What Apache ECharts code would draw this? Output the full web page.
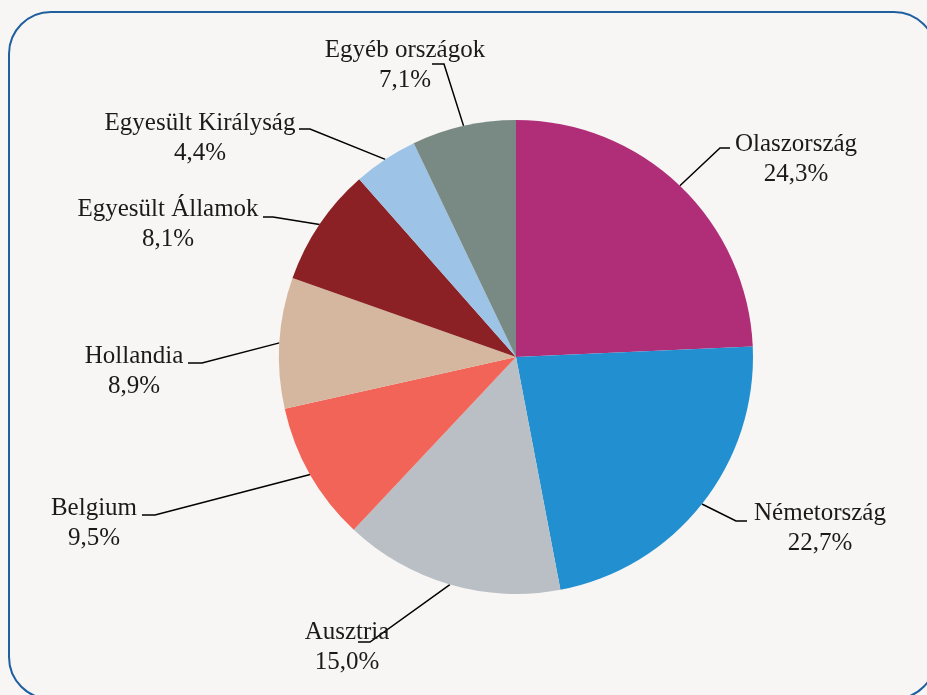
<!DOCTYPE html>
<html>
<head>
<meta charset="utf-8">
<script src="https://cdn.jsdelivr.net/npm/echarts@6/dist/echarts.min.js"></script>
<style>
  html, body { margin: 0; padding: 0; background: #f7f6f4; }
  #chart { width: 927px; height: 695px; }
</style>
</head>
<body>
<div id="chart"></div>
<script>
// országok és részesedések (%)
const countries = ['Olaszország', 'Németország', 'Ausztria', 'Belgium', 'Hollandia', 'Egyesült Államok', 'Egyesült Királyság', 'Egyéb országok']
const shares = [24.3, 22.7, 15.0, 9.5, 8.9, 8.1, 4.4, 7.1]
const colors = ['#b02e78', '#2290d0', '#b9bfc4', '#f26457', '#d5b7a0', '#8b2124', '#9dc3e6', '#788a83']

// címkék elhelyezése: [szöveg közép x, szöveg közép y, könyök x, könyök y, vonal vége x]
const labelPlace = [
  [796, 159, 720, 148, 730],
  [820, 528, 736, 521, 747],
  [347, 647, 370, 642, 358],
  [94, 523, 155, 515, 142],
  [134, 371, 202, 363, 188],
  [168, 224, 273, 217, 263],
  [200, 138, 310, 129, 299],
  [405, 65, 444, 64, 432]
]

const chart = echarts.init(document.getElementById('chart'))

const option = {
  backgroundColor: '#f7f6f4',
  graphic: [
    {
      type: 'rect',
      shape: { x: 9, y: 12, width: 927, height: 687, r: 42 },
      style: { fill: 'none', stroke: '#1f5fa0', lineWidth: 2 },
      silent: true
    }
  ],
  series: [
    {
      type: 'pie',
      center: [516, 357],
      radius: [0, 237],
      startAngle: 90,
      clockwise: true,
      animation: false,
      itemStyle: { borderWidth: 0 },
      label: {
        show: true,
        position: 'outside',
        fontFamily: 'Liberation Serif, DejaVu Serif, serif',
        fontSize: 25,
        lineHeight: 30,
        color: '#1a1a1a',
        formatter: p => p.name + '\n' + p.value.toFixed(1).replace('.', ',') + '%'
      },
      labelLine: {
        show: true,
        length: 30,
        length2: 12,
        lineStyle: { color: '#000', width: 1.5 }
      },
      labelLayout: params => {
        const pl = labelPlace[params.dataIndex]
        const start = params.labelLinePoints ? params.labelLinePoints[0] : [pl[2], pl[3]]
        return {
          x: pl[0],
          y: pl[1],
          align: 'center',
          verticalAlign: 'middle',
          labelLinePoints: [start, [pl[2], pl[3]], [pl[4], pl[3]]]
        }
      },
      data: countries.map((c, i) => ({
        name: c,
        value: shares[i],
        itemStyle: { color: colors[i] }
      }))
    }
  ]
}

chart.setOption(option)
</script>
</body>
</html>
